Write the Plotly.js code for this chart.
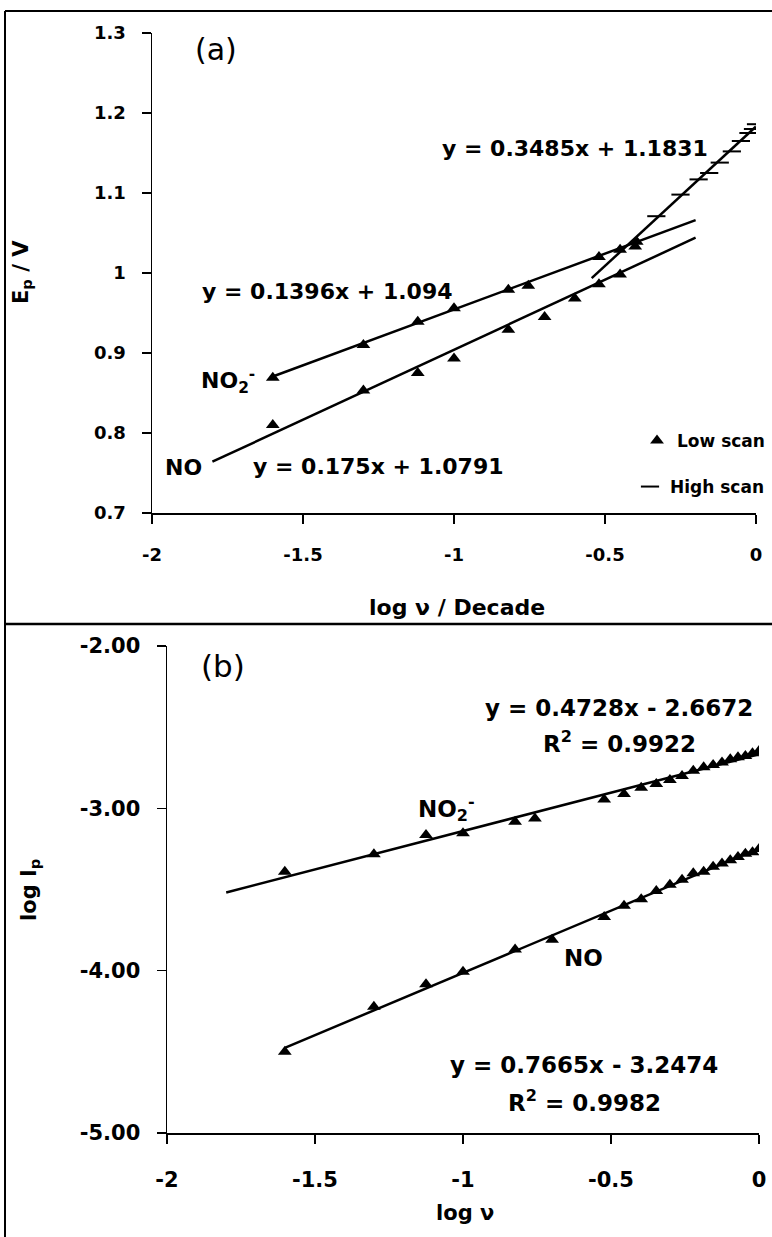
<!DOCTYPE html>
<html>
<head>
<meta charset="utf-8">
<script src="https://cdn.plot.ly/plotly-3.0.1.min.js"></script>
<style>html,body{margin:0;padding:0;background:#fff;overflow:hidden;}#chart{width:772px;height:1237px;}</style>
</head>
<body>
<div id="chart"></div>
<script>
// ---------- DATA ----------
// Panel (a): peak potential vs log scan rate
const aNO2_x = [-1.6, -1.3, -1.12, -1.0, -0.82, -0.754, -0.52, -0.45, -0.395];
const aNO2_y = [0.869, 0.910, 0.939, 0.956, 0.979, 0.984, 1.020, 1.029, 1.039];
const aNO_x = [-1.6, -1.3, -1.12, -1.0, -0.82, -0.70, -0.60, -0.52, -0.45, -0.40];
const aNO_y = [0.810, 0.853, 0.875, 0.893, 0.929, 0.945, 0.968, 0.986, 0.998, 1.033];
const aHigh_x = [-0.33, -0.25, -0.19, -0.155, -0.12, -0.08, -0.05, -0.025, -0.01, 0.0];
const aHigh_y = [1.071, 1.098, 1.117, 1.125, 1.138, 1.152, 1.165, 1.175, 1.180, 1.186];
// fitted lines (a): NO2-, NO, high scan
const aFitSlope = [0.1396, 0.175, 0.3485];
const aFitIntercept = [1.094, 1.0791, 1.1831];
const aFitXStart = [-1.6, -1.8, -0.544];
const aFitXEnd = [-0.2, -0.2, 0.0];

// Panel (b): log peak current vs log scan rate
const bNO2_x = [-1.602, -1.301, -1.125, -1.0, -0.824, -0.757, -0.523, -0.456, -0.398, -0.347, -0.301, -0.26, -0.222, -0.187, -0.155, -0.125, -0.097, -0.071, -0.046, -0.022, 0.0];
const bNO2_y = [-3.391, -3.283, -3.165, -3.154, -3.082, -3.062, -2.945, -2.912, -2.873, -2.850, -2.826, -2.801, -2.768, -2.747, -2.733, -2.717, -2.698, -2.686, -2.678, -2.661, -2.647];
const bNO_x = [-1.602, -1.301, -1.125, -1.0, -0.824, -0.699, -0.523, -0.456, -0.398, -0.347, -0.301, -0.26, -0.222, -0.187, -0.155, -0.125, -0.097, -0.071, -0.046, -0.022, 0.0];
const bNO_y = [-4.500, -4.222, -4.083, -4.007, -3.870, -3.810, -3.670, -3.600, -3.560, -3.510, -3.470, -3.440, -3.400, -3.390, -3.360, -3.340, -3.320, -3.300, -3.280, -3.270, -3.250];
const bFitSlope = [0.4728, 0.7665];
const bFitIntercept = [-2.6672, -3.2474];
const bFitXStart = [-1.8, -1.6];
const bFitXEnd = [0.0, 0.0];

// tick labels
const xTickVals = [-2, -1.5, -1, -0.5, 0];
const xTickText = ["-2", "-1.5", "-1", "-0.5", "0"];
const aYTickVals = [0.7, 0.8, 0.9, 1.0, 1.1, 1.2, 1.3];
const aYTickText = ["0.7", "0.8", "0.9", "1", "1.1", "1.2", "1.3"];
const bYTickVals = [-5, -4, -3, -2];
const bYTickText = ["-5.00", "-4.00", "-3.00", "-2.00"];
const legendNames = ["Low scan", "High scan"];

// ---------- BUILD ----------
const W = 772, H = 1237;
const px = v => v / W;
const py = v => 1 - v / H;
const FONT = "DejaVu Sans";

function fitTrace(m, c, x0, x1, xa, ya) {
  return { x: [x0, x1], y: [m * x0 + c, m * x1 + c], xaxis: xa, yaxis: ya,
    mode: "lines", line: { color: "#000", width: 2.5 }, showlegend: false, hoverinfo: "skip" };
}
const tri = { symbol: "triangle-up", size: 12, color: "#000" };
const traces = [];
for (let i = 0; i < aFitSlope.length; i++) traces.push(fitTrace(aFitSlope[i], aFitIntercept[i], aFitXStart[i], aFitXEnd[i], "x", "y"));
for (let i = 0; i < bFitSlope.length; i++) traces.push(fitTrace(bFitSlope[i], bFitIntercept[i], bFitXStart[i], bFitXEnd[i], "x2", "y2"));
traces.push({ x: aNO2_x, y: aNO2_y, xaxis: "x", yaxis: "y", mode: "markers", marker: tri, name: legendNames[0], showlegend: true, legend: "legend" });
traces.push({ x: aNO_x, y: aNO_y, xaxis: "x", yaxis: "y", mode: "markers", marker: tri, showlegend: false });
traces.push({ x: aHigh_x, y: aHigh_y, xaxis: "x", yaxis: "y", mode: "markers",
  marker: { symbol: "line-ew", size: 13, color: "#000", line: { color: "#000", width: 2 } }, name: legendNames[1], showlegend: true, legend: "legend2" });
traces.push({ x: bNO2_x, y: bNO2_y, xaxis: "x2", yaxis: "y2", mode: "markers", marker: tri, showlegend: false });
traces.push({ x: bNO_x, y: bNO_y, xaxis: "x2", yaxis: "y2", mode: "markers", marker: tri, showlegend: false });

function axisBase(fs) {
  return { showline: true, linecolor: "#000", linewidth: 1.5, ticks: "outside", ticklen: 9,
    tickwidth: 1.5, tickcolor: "#000", showgrid: false, zeroline: false, fixedrange: true, automargin: false,
    tickfont: { family: FONT, size: fs, color: "#000", weight: "bold" } };
}
const bold = (s) => ({ family: FONT, size: s, color: "#000", weight: "bold" });
function ann(text, x, y, size, extra) {
  return Object.assign({ text: text, xref: "paper", yref: "paper", x: px(x), y: py(y),
    xanchor: "center", yanchor: "middle", showarrow: false, font: bold(size) }, extra || {});
}
function legendBox(yCenter) {
  return { x: px(770), y: py(yCenter), xanchor: "right", yanchor: "middle", bgcolor: "rgba(0,0,0,0)",
    font: bold(17), itemwidth: 30, tracegroupgap: 0, borderwidth: 0 };
}

const layout = {
  width: W, height: H, margin: { l: 0, r: 0, t: 0, b: 0, autoexpand: false },
  paper_bgcolor: "#fff", plot_bgcolor: "rgba(0,0,0,0)",
  showlegend: true,
  legend: legendBox(441),
  legend2: legendBox(487),
  xaxis: Object.assign(axisBase(18), { domain: [px(152), px(756)], range: [-2, 0], anchor: "y",
    tickvals: xTickVals, ticktext: xTickText, ticklabelstandoff: 16 }),
  yaxis: Object.assign(axisBase(18), { domain: [py(513), py(33)], range: [0.7, 1.3], anchor: "x",
    tickvals: aYTickVals, ticktext: aYTickText, ticklabelstandoff: 12 }),
  xaxis2: Object.assign(axisBase(21), { domain: [px(167), px(759)], range: [-2, 0], anchor: "y2",
    tickvals: xTickVals, ticktext: xTickText, ticklabelstandoff: 18 }),
  yaxis2: Object.assign(axisBase(21), { domain: [py(1133), py(646)], range: [-5, -2], anchor: "x2",
    tickvals: bYTickVals, ticktext: bYTickText, ticklabelstandoff: 12 }),
  shapes: [
    { type: "line", xref: "paper", yref: "paper", x0: px(5), x1: px(772), y0: py(11), y1: py(11), line: { color: "#000", width: 2 } },
    { type: "line", xref: "paper", yref: "paper", x0: px(5), x1: px(5), y0: py(11), y1: py(1237), line: { color: "#000", width: 2 } },
    { type: "line", xref: "paper", yref: "paper", x0: px(5), x1: px(772), y0: py(624), y1: py(624), line: { color: "#000", width: 2.5 } }
  ],
  annotations: [
    ann("(a)", 216, 49, 30, { font: { family: FONT, size: 30, color: "#000" } }),
    ann("y = 0.3485x + 1.1831", 575, 148, 22),
    ann("y = 0.1396x + 1.094", 327, 292, 22),
    ann("NO<sub>2</sub><sup>-</sup>", 228, 381, 22),
    ann("NO", 183, 468, 22),
    ann("y = 0.175x + 1.0791", 378, 466, 22),
    ann("E<sub>p</sub> / V", 22, 272, 21, { textangle: -90 }),
    ann("log ν / Decade", 457, 607, 22),
    ann("(b)", 223, 666, 31, { font: { family: FONT, size: 31, color: "#000" } }),
    ann("y = 0.4728x - 2.6672", 619, 708, 23),
    ann("R<sup>2</sup> = 0.9922", 619, 742, 23),
    ann("NO<sub>2</sub><sup>-</sup>", 446, 808, 23),
    ann("NO", 583, 958, 23),
    ann("y = 0.7665x - 3.2474", 584, 1065, 23),
    ann("R<sup>2</sup> = 0.9982", 584, 1101, 23),
    ann("log I<sub>p</sub>", 30, 890, 21, { textangle: -90 }),
    ann("log ν", 465, 1213, 21)
  ]
};

Plotly.newPlot("chart", traces, layout, { displayModeBar: false, staticPlot: true });
</script>
</body>
</html>
